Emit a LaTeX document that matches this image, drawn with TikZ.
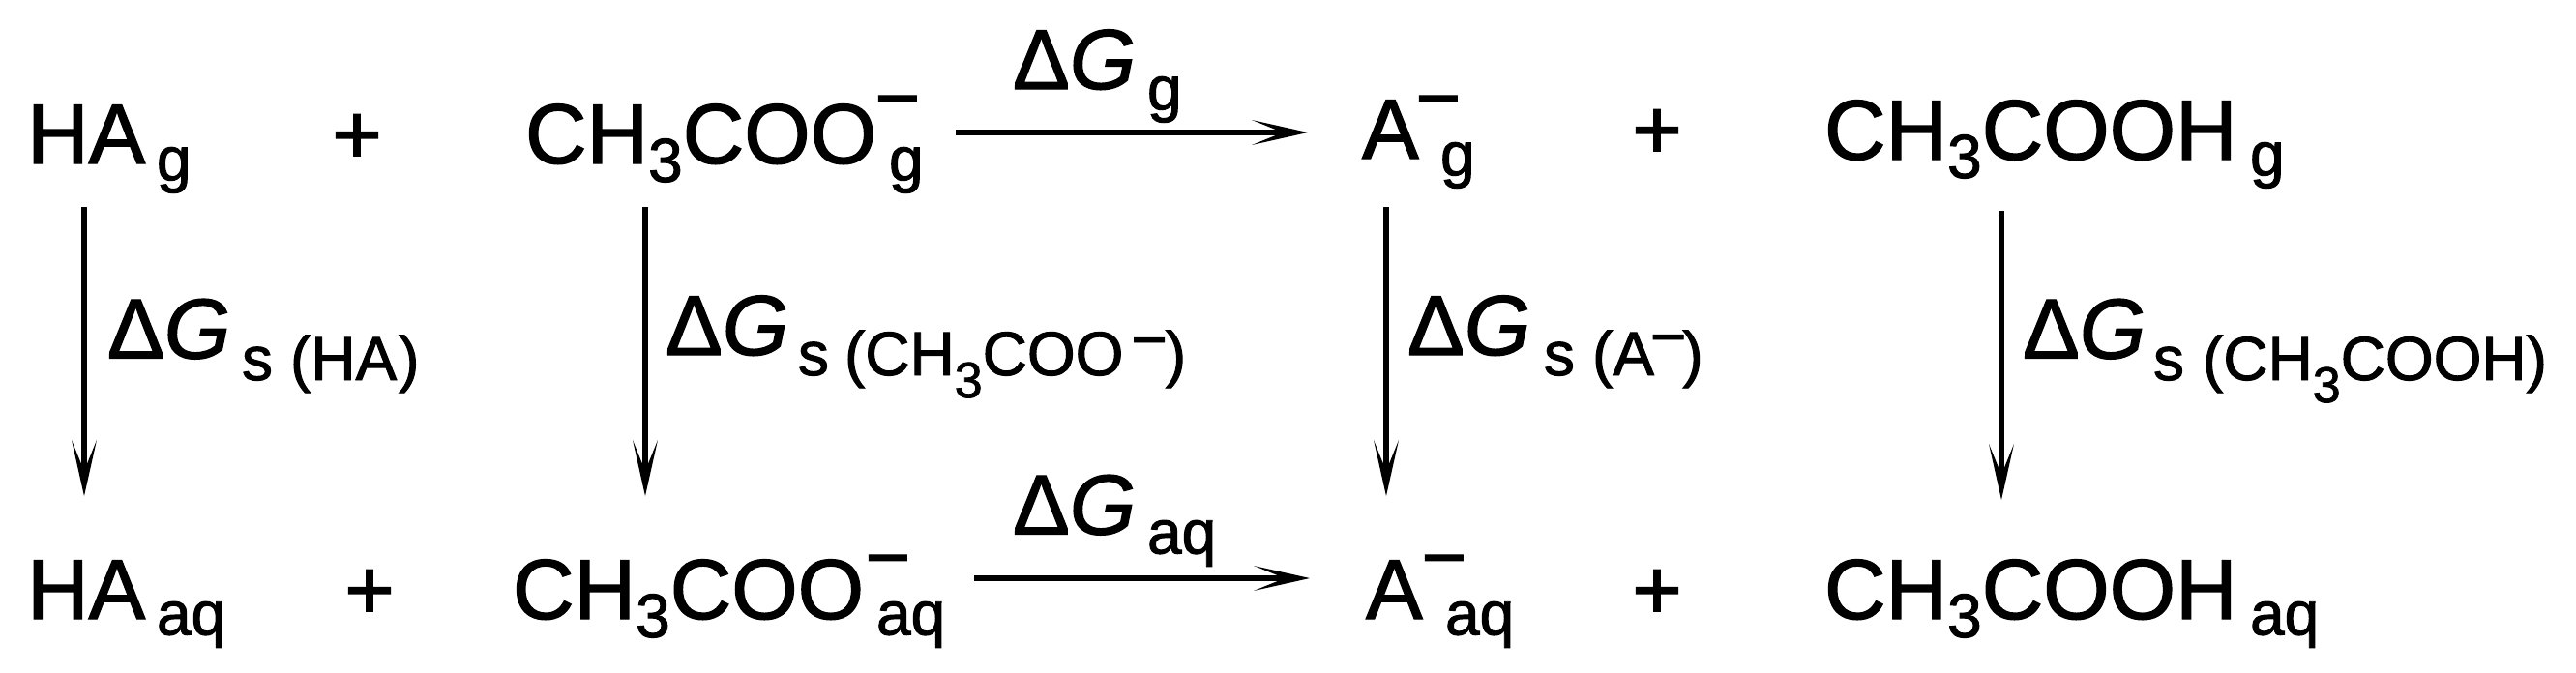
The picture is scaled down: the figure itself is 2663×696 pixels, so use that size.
\documentclass[tikz,border=0pt]{standalone}
\usepackage{fontspec}
\setmainfont[FakeBold=1.5]{Liberation Sans}
\newcommand{\threesub}{\raisebox{-9.5pt}{\fontsize{32}{32}\selectfont 3}}
\newcommand{\threetiny}{\raisebox{-11.5pt}{\fontsize{26}{26}\selectfont 3}}
\pgfarrowsdeclare{barb}{barb}
{\pgfarrowsleftextend{-16pt}\pgfarrowsrightextend{13pt}}
{
  \pgfpathmoveto{\pgfpoint{13pt}{0pt}}
  \pgfpathlineto{\pgfpoint{-16pt}{6.5pt}}
  \pgfpathlineto{\pgfpoint{0pt}{0pt}}
  \pgfpathlineto{\pgfpoint{-16pt}{-6.5pt}}
  \pgfpathclose
  \pgfusepathqfill
}
\begin{document}
\begin{tikzpicture}[x=0.5pt,y=-0.5pt,
    every node/.style={inner sep=0pt,outer sep=0pt,anchor=base west},
    chem/.style={font=\fontsize{44}{44}\selectfont},
    plus/.style={anchor=base,font=\fontsize{44}{44}\selectfont},
    lowr/.style={font=\fontsize{32}{32}\selectfont},
    charge/.style={font=\fontsize{40}{40}\selectfont},
    dg/.style={font=\fontsize{44}{44}\selectfont},
    rxn/.style={line width=3.3pt,-barb}]
  \useasboundingbox (0,0) rectangle (2663,696);

  \node[chem] (ha1) at (28,169) {HA};
  \node[lowr] (ha1s) at (162,186.5) {g};
  \node[chem] (ac1) at (543,169) {CH\threesub COO};
  \node[lowr] (ac1s) at (919,186.5) {g};
  \node[charge] (ac1c) at (904.5,128.4) {−};
  \node[chem] (an1) at (1408,164) {A};
  \node[lowr] (an1s) at (1489,181.5) {g};
  \node[charge] (an1c) at (1463.5,128.4) {−};
  \node[chem] (hc1) at (1886,165) {CH\threesub COOH};
  \node[lowr] (hc1s) at (2326,181.5) {g};

  \node[chem] (ha2) at (28,640) {HA};
  \node[lowr] (ha2s) at (162,656.5) {aq};
  \node[chem] (ac2) at (530,640) {CH\threesub COO};
  \node[lowr] (ac2s) at (906,656.5) {aq};
  \node[charge] (ac2c) at (894.5,603.4) {−};
  \node[chem] (an2) at (1412,640) {A};
  \node[lowr] (an2s) at (1494,656.5) {aq};
  \node[charge] (an2c) at (1469.5,603.4) {−};
  \node[chem] (hc2) at (1886,640) {CH\threesub COOH};
  \node[lowr] (hc2s) at (2326,656.5) {aq};

  \foreach \px/\py/\pn in {369/169/a, 1713/164/b, 382/640/c, 1713/640/d}
  {
    \node[plus] (plus\pn) at (\px,\py) {+};
  }

  \node[dg] (dgg) at (1047,92) {Δ\textit{G}};
  \node[lowr] (dggs) at (1186,113.5) {g};
  \node[dg] (dgaq) at (1047,552.5) {Δ\textit{G}};
  \node[lowr] (dgaqs) at (1186,572.5) {aq};

  \node[dg] (dsha) at (111,370.5) {Δ\textit{G}};
  \node[lowr] (dshas) at (250,393) {s};
  \node[lowr] (dshal) at (300,393) {(HA\hspace{1pt})};
  \node[dg] (dsac) at (688,367) {Δ\textit{G}};
  \node[lowr] (dsacs) at (825,388) {s};
  \node[lowr] (dsacl) at (873,388) {(CH\threetiny COO\hspace{4pt}\raisebox{7.5pt}{−}\hspace{-1pt})};
  \node[dg] (dsan) at (1455,367) {Δ\textit{G}};
  \node[lowr] (dsans) at (1596,388) {s};
  \node[lowr] (dsanl) at (1646,388) {(A\hspace{-2pt}\raisebox{9pt}{−}\hspace{-2pt})};
  \node[dg] (dshc) at (2091,370.5) {Δ\textit{G}};
  \node[lowr] (dshcs) at (2226,393) {s};
  \node[lowr] (dshcl) at (2277,393) {(CH\threetiny COOH)};

  \draw[rxn] ([shift={(59,45)}]ha1.base west) -- ([shift={(59,-127)}]ha2.base west);
  \draw[rxn] ([shift={(124,45)}]ac1.base west) -- ([shift={(137,-127)}]ac2.base west);
  \draw[rxn] ([shift={(25,50)}]an1.base west) -- ([shift={(21,-127)}]an2.base west);
  \draw[rxn] ([shift={(183,53)}]hc1.base west) -- ([shift={(183,-123)}]hc2.base west);
  \draw[rxn] ([shift={(69,-49.5)}]ac1s.base west) -- ([shift={(-56,-27)}]an1.base west);
  \draw[rxn] ([shift={(101,-58.5)}]ac2s.base west) -- ([shift={(-58,-42)}]an2.base west);
\end{tikzpicture}
\end{document}
